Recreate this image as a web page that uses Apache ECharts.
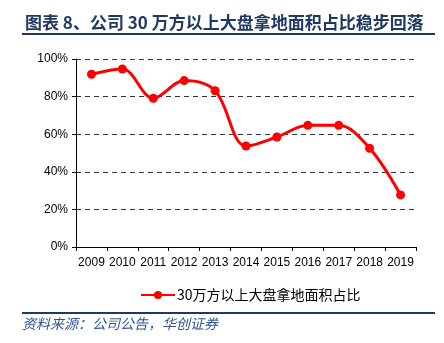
<!DOCTYPE html>
<html><head><meta charset="utf-8">
<script src="https://cdn.jsdelivr.net/npm/echarts@6/dist/echarts.min.js"></script>
<style>html,body{margin:0;padding:0;background:#fff}#c{width:444px;height:343px}</style>
</head><body><div id="c"></div>
<script>
const categories = ['2009','2010','2011','2012','2013','2014','2015','2016','2017','2018','2019'];
const seriesName = '30万方以上大盘拿地面积占比';
const values = [91.9, 94.7, 79.1, 88.5, 83.1, 53.7, 58.5, 64.7, 64.7, 52.5, 27.7];
const yTicks = [0, 20, 40, 60, 80, 100];
const titleText = '图表 8、公司 30 万方以上大盘拿地面积占比稳步回落';
const sourceText = '资料来源：公司公告，华创证券';

const chart = echarts.init(document.getElementById('c'));
chart.setOption({
  backgroundColor: '#fff',
  animation: false,
  title: {
    text: titleText, left: 20, top: 9,
    textStyle: {fontFamily: 'Noto Sans CJK SC', fontWeight: 'bold', fontSize: 17, color: '#1F3864'}
  },
  graphic: [
    {type: 'rect', shape: {x: 22, y: 33, width: 413, height: 2}, style: {fill: '#1F3864'}},
    {type: 'rect', shape: {x: 22, y: 312, width: 413, height: 2}, style: {fill: '#1F3864'}},
    {type: 'text', left: 22, top: 317, style: {text: sourceText, fill: '#2F5597', font: 'italic 14px "Noto Sans CJK SC"'}}
  ],
  legend: {
    data: [seriesName], left: 135, top: 283, itemWidth: 34, itemHeight: 10, itemGap: 2,
    textStyle: {fontFamily: 'Noto Sans CJK SC', fontSize: 14, color: '#000', padding: [0, 0, 0, -3]}
  },
  grid: {left: 76, right: 28, top: 59, bottom: 96},
  xAxis: {
    type: 'category', data: categories, boundaryGap: true,
    axisLine: {lineStyle: {color: '#000', width: 1}},
    axisTick: {show: true, length: 4, lineStyle: {color: '#000'}},
    axisLabel: {color: '#000', fontFamily: 'Liberation Sans', fontSize: 12, margin: 10, interval: 0}
  },
  yAxis: {
    type: 'value', min: 0, max: 100, interval: 20,
    axisLine: {show: true, lineStyle: {color: '#000'}},
    axisTick: {show: true, length: 4, lineStyle: {color: '#000'}},
    axisLabel: {color: '#000', fontFamily: 'Liberation Sans', fontSize: 12, margin: 8, formatter: v => yTicks.includes(v) ? v + '%' : ''},
    splitLine: {show: true, lineStyle: {color: '#333', type: [5, 4], width: 1}}
  },
  series: [{
    name: seriesName, type: 'line', data: values, smooth: 0.35,
    symbol: 'circle', symbolSize: 9,
    lineStyle: {color: '#FF0000', width: 3},
    itemStyle: {color: '#FF0000'}
  }]
});
</script></body></html>
